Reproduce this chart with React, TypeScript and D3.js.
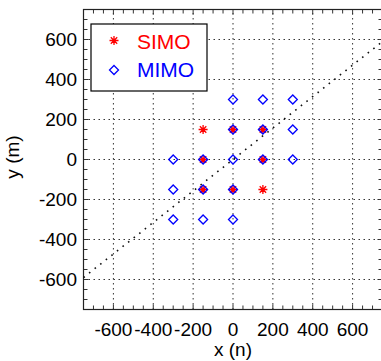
import React from 'react';
import * as d3 from 'd3';

// marker positions (m)
const simoX = [-150, 0, 150, -150, 150, -150, 0, 150];
const simoY = [150, 150, 150, 0, 0, -150, -150, -150];
const mimoX = [0, 150, 300, 0, 150, 300, -150, 0, 150, 300, -300, -300, -150, 0, -300, -150, 0];
const mimoY = [300, 300, 300, 150, 150, 150, 0, 0, 0, 0, 0, -150, -150, -150, -300, -300, -300];
// dotted reference line
const refX = [-750, 750];
const refY = [-590, 590];
const majorTicks = [-600, -400, -200, 0, 200, 400, 600];
const minorTicks = d3.range(-750, 751, 50);
const legendLabels = ['SIMO', 'MIMO'];

const W = 381;
const H = 361;
// no serif face is installed, so use a sans with matching widths
const txt: React.CSSProperties = { fontFamily: '"Liberation Sans", Arial, sans-serif' };

const asterisk = 'M-4.5,0L4.5,0M0,-4.5L0,4.5M-3.2,-3.2L3.2,3.2M-3.2,3.2L3.2,-3.2';
const diamond = 'M0,-4.5L4.5,0L0,4.5L-4.5,0Z';

export default function App() {
  const x = d3.scaleLinear().domain([-750, 750]).range([83.5, 382.5]);
  const y = d3.scaleLinear().domain([-750, 750]).range([309.5, 9.5]);
  const [x0, x1] = x.range();
  const [y0, y1] = y.range();

  const refLine = d3.line<number>()
    .x((d, i) => x(refX[i]))
    .y((d, i) => y(refY[i]));

  return (
    <svg width={W} height={H} style={{ position: 'absolute', left: 0, top: 0, background: '#fff' }}>
      {/* grid */}
      {majorTicks.map((t) => (
        <g key={'g' + t} stroke="#333" strokeWidth={1} strokeDasharray="1.5 3.5">
          <line x1={x(t)} x2={x(t)} y1={y0} y2={y1} />
          <line x1={x0} x2={x1} y1={y(t)} y2={y(t)} />
        </g>
      ))}

      {/* ticks on all four sides */}
      {minorTicks.map((t) => {
        const len = majorTicks.includes(t) ? 5 : 4;
        return (
          <g key={'t' + t} stroke="#333" strokeWidth={1}>
            <line x1={x(t)} x2={x(t)} y1={y0} y2={y0 - len} />
            <line x1={x(t)} x2={x(t)} y1={y1} y2={y1 + len} />
            <line x1={x0} x2={x0 + len} y1={y(t)} y2={y(t)} />
            <line x1={x1} x2={x1 - len} y1={y(t)} y2={y(t)} />
          </g>
        );
      })}

      {/* frame */}
      <rect x={x0} y={y1} width={x1 - x0} height={y0 - y1} fill="none" stroke="#222" strokeWidth={1.2} />

      {/* dotted line */}
      <path d={refLine(refX) || ''} fill="none" stroke="#111" strokeWidth={1.6} strokeDasharray="1.6 5.5" />

      {/* SIMO */}
      {simoX.map((v, i) => (
        <path key={'s' + i} d={asterisk} transform={`translate(${x(v)},${y(simoY[i])})`}
          stroke="#ff0000" strokeWidth={1.3} fill="none" />
      ))}
      {/* MIMO */}
      {mimoX.map((v, i) => (
        <path key={'m' + i} d={diamond} transform={`translate(${x(v)},${y(mimoY[i])})`}
          stroke="#0000ff" strokeWidth={1.3} fill="none" />
      ))}

      {/* tick labels */}
      {majorTicks.map((t) => (
        <text key={'xl' + t} x={x(t)} y={336} textAnchor="middle" style={txt} fontSize={19} fill="#000">
          {t}
        </text>
      ))}
      {majorTicks.map((t) => (
        <text key={'yl' + t} x={77} y={y(t) + 6.5} textAnchor="end" style={txt} fontSize={19} fill="#000">
          {t}
        </text>
      ))}

      {/* axis labels */}
      <text x={233} y={356} textAnchor="middle" style={txt} fontSize={19} fill="#000">x (n)</text>
      <text transform="translate(19,157) rotate(-90)" textAnchor="middle" style={txt} fontSize={19} fill="#000">y (m)</text>

      {/* legend */}
      <rect x={91} y={24} width={116} height={67} fill="#fff" stroke="#000" strokeWidth={1.2} />
      <path d={asterisk} transform="translate(114,40.5)" stroke="#ff0000" strokeWidth={1.3} fill="none" />
      <path d={diamond} transform="translate(114,70)" stroke="#0000ff" strokeWidth={1.3} fill="none" />
      <text x={137} y={49} style={txt} fontSize={21} fill="#ff0000">{legendLabels[0]}</text>
      <text x={137} y={77} style={txt} fontSize={21} fill="#0000ff">{legendLabels[1]}</text>
    </svg>
  );
}
